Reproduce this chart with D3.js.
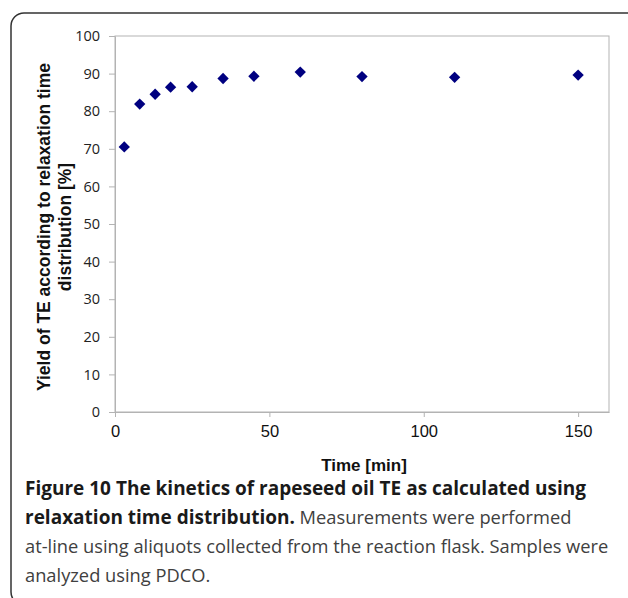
<!DOCTYPE html>
<html>
<head>
<meta charset="utf-8">
<script src="https://cdn.jsdelivr.net/npm/d3@7"></script>
<style>
  body { margin: 0; background: #fff; }
</style>
</head>
<body>
<div id="chart"></div>
<script>
// Data
var times = [3, 8, 13, 18, 25, 35, 45, 60, 80, 110, 150];
var yields = [70.5, 81.9, 84.5, 86.4, 86.5, 88.7, 89.3, 90.4, 89.2, 89.0, 89.6];
var xTicks = [0, 50, 100, 150];
var yTicks = [0, 10, 20, 30, 40, 50, 60, 70, 80, 90, 100];

var W = 628, H = 598;
var margin = {top: 36, right: 20, bottom: 186, left: 115},
    width = 609 - margin.left,
    height = 412 - margin.top;

var svg = d3.select("#chart").append("svg")
    .attr("width", W)
    .attr("height", H);

// rounded frame around figure + caption
svg.append("rect")
  .attr("x", 11).attr("y", 13)
  .attr("width", 630).attr("height", 592)
  .attr("rx", 13).attr("ry", 13)
  .attr("fill", "none")
  .attr("stroke", "#333")
  .attr("stroke-width", 1.5);

var g = svg.append("g")
    .attr("transform", "translate(" + margin.left + "," + margin.top + ")");

var x = d3.scaleLinear().domain([0, 160]).range([0, width]);
var y = d3.scaleLinear().domain([0, 100]).range([height, 0]);

// plot area outline
g.append("rect")
  .attr("width", width).attr("height", height)
  .attr("fill", "none")
  .attr("stroke", "#b3b3b3")
  .attr("stroke-width", 1);

var xAxis = g.append("g")
  .attr("transform", "translate(0," + height + ")")
  .call(d3.axisBottom(x).tickValues(xTicks).tickSize(5).tickSizeOuter(0).tickPadding(8));
xAxis.select(".domain").attr("stroke", "#b3b3b3");
xAxis.selectAll(".tick line").attr("stroke", "#b3b3b3");
xAxis.selectAll("text")
  .style("font-family", "'Liberation Sans', Arial, sans-serif")
  .style("font-size", "16.5px")
  .attr("fill", "#111");

var yAxis = g.append("g")
  .call(d3.axisLeft(y).tickValues(yTicks).tickSize(6).tickSizeOuter(0).tickPadding(9));
yAxis.select(".domain").attr("stroke", "#b3b3b3");
yAxis.selectAll(".tick line").attr("stroke", "#b3b3b3");
yAxis.selectAll("text")
  .style("font-family", "'Open Sans', sans-serif")
  .style("font-size", "14.5px")
  .attr("fill", "#222");

// diamonds
var diamond = d3.symbol().type(d3.symbolSquare).size(64);
g.selectAll(".pt")
  .data(times)
  .enter().append("path")
    .attr("class", "pt")
    .attr("d", diamond)
    .attr("transform", function(d, i) {
      return "translate(" + x(d) + "," + y(yields[i]) + ") rotate(45)";
    })
    .attr("fill", "#000080");

// axis titles
svg.append("text")
  .attr("x", 364).attr("y", 471)
  .attr("text-anchor", "middle")
  .style("font-family", "'Liberation Sans', Arial, sans-serif")
  .style("font-weight", "bold")
  .style("font-size", "17px")
  .attr("fill", "#111")
  .text("Time [min]");

var yTitle = svg.append("text")
  .attr("transform", "translate(50,227) rotate(-90)")
  .attr("text-anchor", "middle")
  .style("font-family", "'Liberation Sans', Arial, sans-serif")
  .style("font-weight", "bold")
  .style("font-size", "17.5px")
  .attr("fill", "#111");
yTitle.append("tspan").attr("x", 0).attr("y", 0)
  .text("Yield of TE according to relaxation time");
yTitle.append("tspan").attr("x", 0).attr("y", 21)
  .text("distribution [%]");

// caption
var capFont = "'Open Sans', 'Noto Sans', sans-serif";
var cap = [
  [{t: "Figure 10 The kinetics of rapeseed oil TE as calculated using", b: true}],
  [{t: "relaxation time distribution.", b: true}, {t: " Measurements were performed", b: false}],
  [{t: "at-line using aliquots collected from the reaction flask. Samples were", b: false}],
  [{t: "analyzed using PDCO.", b: false}]
];
cap.forEach(function(line, i) {
  var t = svg.append("text")
    .attr("x", 25).attr("y", 495 + i * 29)
    .style("font-family", capFont);
  line.forEach(function(seg) {
    t.append("tspan")
      .style("font-weight", seg.b ? "bold" : "normal")
      .style("font-size", seg.b ? "19px" : "18.3px")
      .attr("fill", seg.b ? "#1a1a1a" : "#404040")
      .text(seg.t);
  });
});
</script>
</body>
</html>
